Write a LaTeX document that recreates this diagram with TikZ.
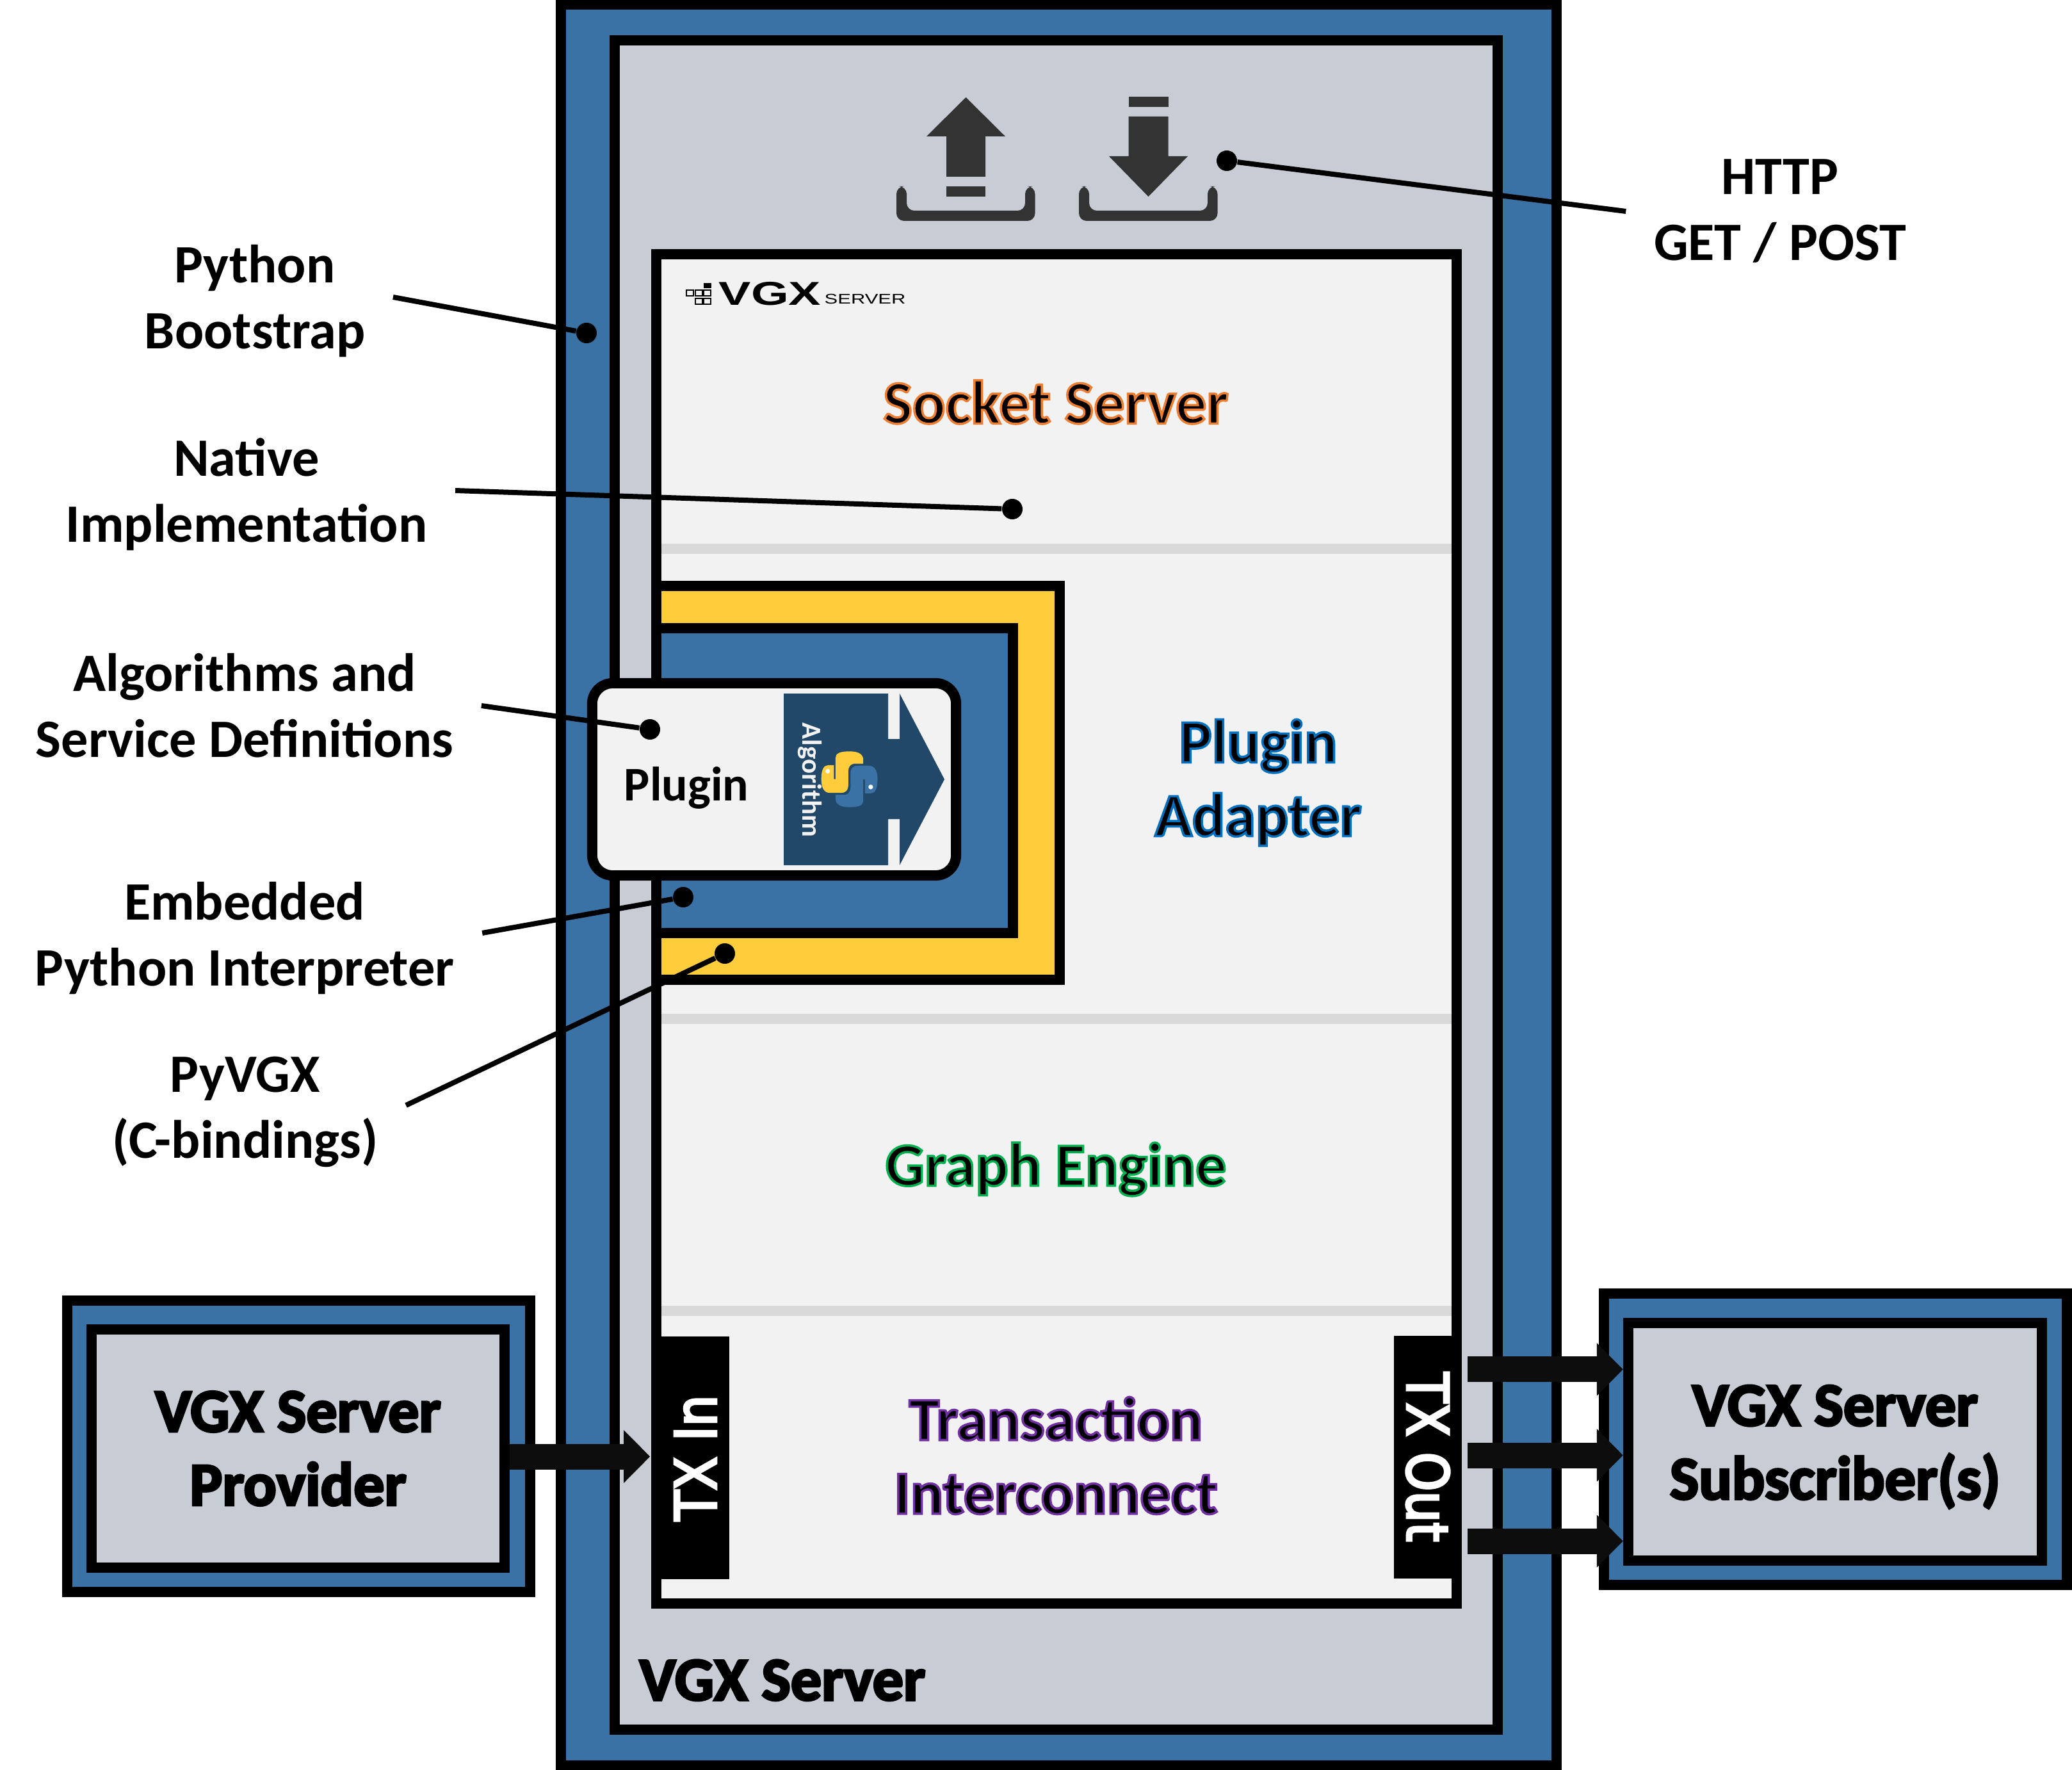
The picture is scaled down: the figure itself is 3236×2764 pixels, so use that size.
\documentclass[tikz,border=0pt]{standalone}
\usepackage{fontspec}
\usepackage{tikz}
\usetikzlibrary{arrows.meta}
\setmainfont{Carlito}
\newfontfamily\logofont[FakeStretch=1.46]{Liberation Sans}
\newfontfamily\logosmall[FakeStretch=1.42]{Liberation Sans}
\newfontfamily\txfont[FakeStretch=0.86]{DejaVu Sans}

\definecolor{frameblue}{HTML}{3A72A6}
\definecolor{framegrey}{HTML}{C8CDD5}
\definecolor{panelgrey}{HTML}{F2F2F2}
\definecolor{bargrey}{HTML}{D9D9D9}
\definecolor{pluginyellow}{HTML}{FFCC3C}
\definecolor{algoblue}{HTML}{214868}
\definecolor{icongrey}{HTML}{333333}
\definecolor{txblack}{HTML}{0D0D0D}

% fill in black, stroke in the given rgb
\newcommand{\outlinetext}[3][1]{\special{pdf:code 2 Tr #1 w #2 RG}#3\special{pdf:code 0 Tr}}

\tikzstyle{frame} = [rectangle, line width=0.16cm, draw=black, fill=frameblue]
\tikzstyle{inner} = [rectangle, line width=0.16cm, draw=black, fill=framegrey, align=center, font=\fontsize{27.3}{32.7}\selectfont\bfseries]
\tikzstyle{panel} = [rectangle, line width=0.16cm, draw=black, fill=panelgrey]
\tikzstyle{layerbar} = [rectangle, minimum width=12.34cm, minimum height=0.16cm, inner sep=0pt, fill=bargrey]
\tikzstyle{layerlabel} = [align=center, font=\fontsize{27.3}{32.7}\selectfont\bfseries]
\tikzstyle{callout} = [align=center, inner xsep=0.43cm, font=\fontsize{24}{29.3}\selectfont\bfseries]
\tikzstyle{dotmark} = [circle, fill=black, minimum size=0.32cm, inner sep=0pt]
\tikzstyle{leader} = [line width=0.08cm, draw=black]
\tikzstyle{txbox} = [rectangle, fill=black, text=white, minimum width=3.79cm, minimum height=1.06cm, inner sep=0pt, font=\fontsize{25.5}{29}\txfont]
\tikzstyle{txarrow} = [line width=0.4cm, draw=txblack, -{Triangle[length=0.41cm,width=0.8cm]}]
\tikzstyle{icon} = [fill=icongrey]

\begin{document}
\begin{tikzpicture}[x=0.01cm, y=-0.01cm]
        \useasboundingbox (0,0) rectangle (3236,2764);

        % Frames
        \node (server) [frame, minimum width=15.545cm, minimum height=27.48cm] at (1653.75,1382) {};
        \node (native) [inner, minimum width=13.79cm, minimum height=26.36cm] at (1649.5,1382) {};
        \node (socket) [panel, minimum width=12.5cm, minimum height=21.05cm] at (1650,1450.5) {};
        \node (bar1) [layerbar] at (1650,857) {};
        \node (bar2) [layerbar] at (1650,1591) {};
        \node (bar3) [layerbar] at (1650,2047) {};
        \node (pyvgx) [frame, fill=pluginyellow, minimum width=6.3cm, minimum height=6.15cm] at (1340,1222.5) {};
        \node (python) [frame, minimum width=5.57cm, minimum height=4.76cm] at (1303.5,1219) {};
        \node (plugin) [panel, rounded corners=0.32cm, minimum width=5.68cm, minimum height=3cm] at (1209,1217) {};

        % Upload and download
        \foreach \x in {1400,1685}
            \fill [icon, rounded corners=0.12cm] (\x,291) -- (\x,345) -- (\x+216.5,345) -- (\x+216.5,291) -- (\x+201,291) -- (\x+201,329) -- (\x+16,329) -- (\x+16,291) -- cycle;
        \fill [icon] (1508.5,152) -- (1570,213) -- (1539,213) -- (1539,276) -- (1478,276) -- (1478,213) -- (1447,213) -- cycle;
        \fill [icon] (1478,291) rectangle (1539,307);
        \fill [icon] (1762.5,151) rectangle (1824.5,167);
        \fill [icon] (1793.5,307) -- (1855,244) -- (1824.5,244) -- (1824.5,182) -- (1762.5,182) -- (1762.5,244) -- (1732,244) -- cycle;

        % Server logo
        \fill (1099,442) rectangle (1111,450);
        \foreach \x/\y in {1072/453,1086/453,1099/453,1086/466,1099/466}
            \draw [line width=0.02cm] (\x,\y) rectangle ++(11,9);
        \node (logovgx) [anchor=base west, inner sep=0pt, font=\fontsize{14.7}{16}\logofont\bfseries] at (1122,476) {VGX};
        \node (logoserver) [anchor=base west, inner sep=0pt, font=\fontsize{6.2}{7}\logosmall] at (1287,475) {SERVER};

        % Algorithm arrow
        \fill [algoblue] (1224,1083) -- (1387,1083) -- (1387,1154) -- (1405,1154) -- (1405,1083) -- (1475,1217) -- (1405,1351) -- (1405,1279) -- (1387,1279) -- (1387,1351) -- (1224,1351) -- cycle;
        \node (algolabel) [rotate=-90, text=panelgrey, inner sep=0pt, font=\fontsize{12.2}{14}\selectfont\bfseries] at (1265,1218) {Algorithm};
        \begin{scope}[shift={(1270,1160)}, x=0.00333cm, y=-0.00333cm]
            \fill [frameblue, rotate around={180:(170,171)}] (97,105) -- (97,170) -- (105,170) -- (105,70) .. controls (105,50) and (125,40) .. (170,40) .. controls (215,40) and (235,55) .. (235,80) -- (235,98) -- (190,98) .. controls (175,100) and (165,115) .. (165,130) -- (165,195) .. controls (165,225) and (150,235) .. (130,235) -- (80,235) .. controls (50,235) and (38,210) .. (38,170) .. controls (38,125) and (50,105) .. (70,105) -- cycle;
            \fill [pluginyellow] (97,105) -- (97,170) -- (105,170) -- (105,70) .. controls (105,50) and (125,40) .. (170,40) .. controls (215,40) and (235,55) .. (235,80) -- (235,98) -- (190,98) .. controls (175,100) and (165,115) .. (165,130) -- (165,195) .. controls (165,225) and (150,235) .. (130,235) -- (80,235) .. controls (50,235) and (38,210) .. (38,170) .. controls (38,125) and (50,105) .. (70,105) -- cycle;
            \fill [white] (68,133) circle (11);
            \fill [white] (270,207) circle (11);
        \end{scope}

        % Nodes
        \node (pluginlabel) [font=\fontsize{21.5}{26}\selectfont\bfseries] at (1072,1230) {Plugin};
        \node (socketlabel) [layerlabel] at (1649,628) {\outlinetext{0.93 0.49 0.19}{Socket Server}};
        \node (adapterlabel) [layerlabel] at (1965,1222) {\outlinetext{0 0.44 0.75}{Plugin\\Adapter}};
        \node (enginelabel) [layerlabel] at (1649,1826) {\outlinetext{0 0.69 0.31}{Graph Engine}};
        \node (txlabel) [layerlabel] at (1649,2273) {\outlinetext{0.44 0.19 0.63}{Transaction\\Interconnect}};
        \node (serverlabel) [layerlabel, anchor=base, inner sep=0pt] at (1222,2655) {\outlinetext{0 0 0}{VGX Server}};

        \node (txin) [txbox, rotate=90] at (1086,2276.5) {\outlinetext{1 1 1}{TX In}};
        \node (txout) [txbox, rotate=-90] at (2230,2275.5) {\outlinetext{1 1 1}{TX Out}};

        \node (providerframe) [frame, minimum width=7.23cm, minimum height=4.55cm] at (466.5,2258.5) {};
        \node (provider) [inner, minimum width=6.45cm, minimum height=3.72cm] at (465.5,2262) {\outlinetext{0 0 0}{VGX Server\\Provider}};
        \node (subscriberframe) [frame, minimum width=7.23cm, minimum height=4.55cm] at (2866.5,2247.5) {};
        \node (subscriber) [inner, minimum width=6.46cm, minimum height=3.71cm] at (2866,2251.5) {};
        \node (subscriberlabel) [layerlabel] at (2866,2259.5) {\outlinetext{0 0 0}{VGX Server\\Subscriber(s)}};

        \node (bootstrap) [callout] at (398,470) {Python\\Bootstrap};
        \node (implementation) [callout] at (385,772) {Native\\Implementation};
        \node (definitions) [callout] at (382,1102) {Algorithms and\\Service Definitions};
        \node (interpreter) [callout] at (382,1465) {Embedded\\Python Interpreter};
        \node (bindings) [callout] at (383,1736) {PyVGX\\(C-bindings)};
        \node (http) [callout] at (2780,330) {HTTP\\GET / POST};

        \node (dotbootstrap) [dotmark] at (916,520) {};
        \node (dotnative) [dotmark] at (1581,795) {};
        \node (dotplugin) [dotmark] at (1015,1139) {};
        \node (dotpython) [dotmark] at (1067,1401) {};
        \node (dotpyvgx) [dotmark] at (1132,1489) {};
        \node (dothttp) [dotmark] at (1916,251) {};

        % Arrows
        \draw [leader] ([yshift=0.06cm]bootstrap.east) -- (dotbootstrap);
        \draw [leader] ([yshift=0.06cm]implementation.east) -- (dotnative);
        \draw [leader] (definitions.east) -- (dotplugin);
        \draw [leader] ([yshift=0.08cm]interpreter.east) -- (dotpython);
        \draw [leader] ([yshift=0.1cm]bindings.east) -- (dotpyvgx);
        \draw [leader] (http.west) -- (dothttp);
        \draw [txarrow, shorten >=0.17cm] ([yshift=0.02cm]txin.north -| provider.east) -- ([yshift=0.02cm]txin.north);
        \foreach \dy in {1.37,0.03,-1.31}
            \draw [txarrow, shorten <=0.08cm] ([yshift=\dy cm]txout.north) -- ([yshift=\dy cm]txout.north -| subscriber.west);
    \end{tikzpicture}
\end{document}
